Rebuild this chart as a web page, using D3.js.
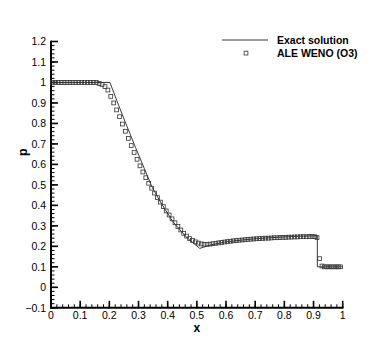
<!DOCTYPE html>
<html>
<head>
<meta charset="utf-8">
<script src="https://cdn.jsdelivr.net/npm/d3@7"></script>
<style>
body{margin:0;background:#fff;}
text{font-family:"Liberation Sans",Arial,sans-serif;}
</style>
</head>
<body>
<script>
// exact solution (line)
var exactX = [0,0.202,0.23,0.26,0.29,0.32,0.345,0.377,0.417,0.463,0.51,0.55,0.6,0.65,0.7,0.75,0.8,0.85,0.913,0.913,1];
var exactP = [1,1,0.895,0.787,0.682,0.58,0.493,0.412,0.322,0.246,0.19,0.208,0.222,0.23,0.237,0.242,0.246,0.249,0.252,0.1,0.1];

// ALE WENO (O3) (markers)
var numX = [0.005,0.015,0.025,0.035,0.045,0.055,0.065,0.075,0.085,0.095,0.105,0.115,0.125,0.135,0.145,0.155,
	0.165,0.175,0.185,0.195,0.205,0.215,0.225,0.235,0.245,0.255,0.265,0.275,0.285,0.295,
	0.305,0.315,0.325,0.335,0.345,0.355,0.365,0.375,0.385,0.395,0.405,0.415,0.425,0.435,0.445,
	0.455,0.465,0.475,0.485,0.495,0.505,0.515,0.525,0.535,0.545,0.555,0.565,0.575,0.585,0.595,
	0.605,0.615,0.625,0.635,0.645,0.655,0.665,0.675,0.685,0.695,0.705,0.715,0.725,0.735,0.745,
	0.755,0.765,0.775,0.785,0.795,0.805,0.815,0.825,0.835,0.845,0.855,0.865,0.875,0.885,0.895,
	0.904,0.912,0.921,0.929,0.937,0.945,0.953,0.961,0.969,0.977,0.985,0.993];
var numP = [1,1,1,1,1,1,1,1,1,1,1,1,1,1,1,1,
	0.995,0.99,0.98,0.963,0.932,0.9,0.866,0.833,0.797,0.762,0.727,0.692,0.658,0.625,
	0.593,0.563,0.535,0.508,0.484,0.46,0.438,0.416,0.394,0.373,0.353,0.334,0.315,0.297,0.28,
	0.264,0.25,0.238,0.229,0.222,0.216,0.212,0.21,0.21,0.211,0.213,0.215,0.217,0.219,0.221,
	0.223,0.225,0.227,0.228,0.23,0.231,0.232,0.234,0.235,0.236,0.237,0.238,0.239,0.24,0.24,
	0.241,0.242,0.242,0.243,0.244,0.244,0.245,0.245,0.246,0.246,0.247,0.247,0.247,0.248,0.248,
	0.247,0.243,0.14,0.104,0.1,0.1,0.1,0.1,0.1,0.1,0.1,0.1];

var xTicks = [0,0.1,0.2,0.3,0.4,0.5,0.6,0.7,0.8,0.9,1];
var yTicks = [-0.1,0,0.1,0.2,0.3,0.4,0.5,0.6,0.7,0.8,0.9,1,1.1,1.2];
var legendNames = ['Exact solution','ALE WENO (O3)'];

var W = 390, H = 347;
var svg = d3.select('body').append('svg').attr('width',W).attr('height',H);

var xScale = d3.scaleLinear().domain([0,1]).range([51,342.7]);
var yScale = d3.scaleLinear().domain([-0.1,1.2]).range([307.8,41.5]);

//Minor ticks
var xMinor = d3.range(0,51).map(function(i){return i*0.02;});
var yMinor = d3.range(0,66).map(function(i){return -0.1+i*0.02;});

var axisG = svg.append('g').attr('stroke','#000');
axisG.selectAll('.xmin').data(xMinor).enter().append('line')
	.attr('x1',function(d){return xScale(d);}).attr('x2',function(d){return xScale(d);})
	.attr('y1',yScale(-0.1)).attr('y2',yScale(-0.1)-3.5).attr('stroke-width',1);
axisG.selectAll('.xmaj').data(xTicks).enter().append('line')
	.attr('x1',function(d){return xScale(d);}).attr('x2',function(d){return xScale(d);})
	.attr('y1',yScale(-0.1)).attr('y2',yScale(-0.1)-7).attr('stroke-width',1.6);
axisG.selectAll('.ymin').data(yMinor).enter().append('line')
	.attr('y1',function(d){return yScale(d);}).attr('y2',function(d){return yScale(d);})
	.attr('x1',xScale(0)).attr('x2',xScale(0)+3.5).attr('stroke-width',1);
axisG.selectAll('.ymaj').data(yTicks).enter().append('line')
	.attr('y1',function(d){return yScale(d);}).attr('y2',function(d){return yScale(d);})
	.attr('x1',xScale(0)).attr('x2',xScale(0)+7).attr('stroke-width',1.6);
axisG.append('line').attr('x1',xScale(0)).attr('x2',xScale(1)+0.8)
	.attr('y1',yScale(-0.1)).attr('y2',yScale(-0.1)).attr('stroke-width',2);
axisG.append('line').attr('x1',xScale(0)).attr('x2',xScale(0))
	.attr('y1',yScale(-0.1)+1).attr('y2',yScale(1.2)-0.8).attr('stroke-width',2);

svg.selectAll('.xl').data(xTicks).enter().append('text')
	.attr('x',function(d){return xScale(d);}).attr('y',yScale(-0.1)+11)
	.attr('text-anchor','middle').attr('font-size',10.5).attr('fill','#000')
	.text(function(d){return d3.format('~g')(d);});
svg.selectAll('.yl').data(yTicks).enter().append('text')
	.attr('x',xScale(0)-5).attr('y',function(d){return yScale(d)+3.8;})
	.attr('text-anchor','end').attr('font-size',10.5).attr('fill','#000')
	.text(function(d){return d3.format('~g')(d);});

svg.append('text').attr('x',xScale(0.5)).attr('y',332).attr('text-anchor','middle')
	.attr('font-size',12).attr('font-weight','bold').text('x');
svg.append('text').attr('transform','translate(27,'+yScale(0.66)+') rotate(-90)')
	.attr('text-anchor','middle').attr('font-size',12.5).attr('font-weight','bold').text('p');

//Exact line
var line = d3.line().x(function(d){return xScale(d[0]);}).y(function(d){return yScale(d[1]);});
svg.append('path').datum(exactX.map(function(d,i){return [d,exactP[i]];}))
	.attr('d',line).attr('fill','none').attr('stroke','#222').attr('stroke-width',0.9);

//Markers
svg.selectAll('.m').data(numX.map(function(d,i){return [d,numP[i]];})).enter().append('rect')
	.attr('x',function(d){return xScale(d[0])-1.9;}).attr('y',function(d){return yScale(d[1])-1.9;})
	.attr('width',3.8).attr('height',3.8)
	.attr('fill','none').attr('stroke','#333').attr('stroke-width',0.8);

//Legend
var legendG = svg.append('g');
legendG.append('line').attr('x1',222).attr('x2',268).attr('y1',40).attr('y2',40)
	.attr('stroke','#222').attr('stroke-width',0.9);
legendG.append('rect').attr('x',244.1).attr('y',51.2).attr('width',3.8).attr('height',3.8)
	.attr('fill','none').attr('stroke','#333').attr('stroke-width',0.8);
legendG.selectAll('text').data(legendNames).enter().append('text')
	.attr('x',277).attr('y',function(d,i){return 44+i*13;})
	.attr('font-size',10.5).attr('font-weight','bold').text(function(d){return d;});
</script>
</body>
</html>
